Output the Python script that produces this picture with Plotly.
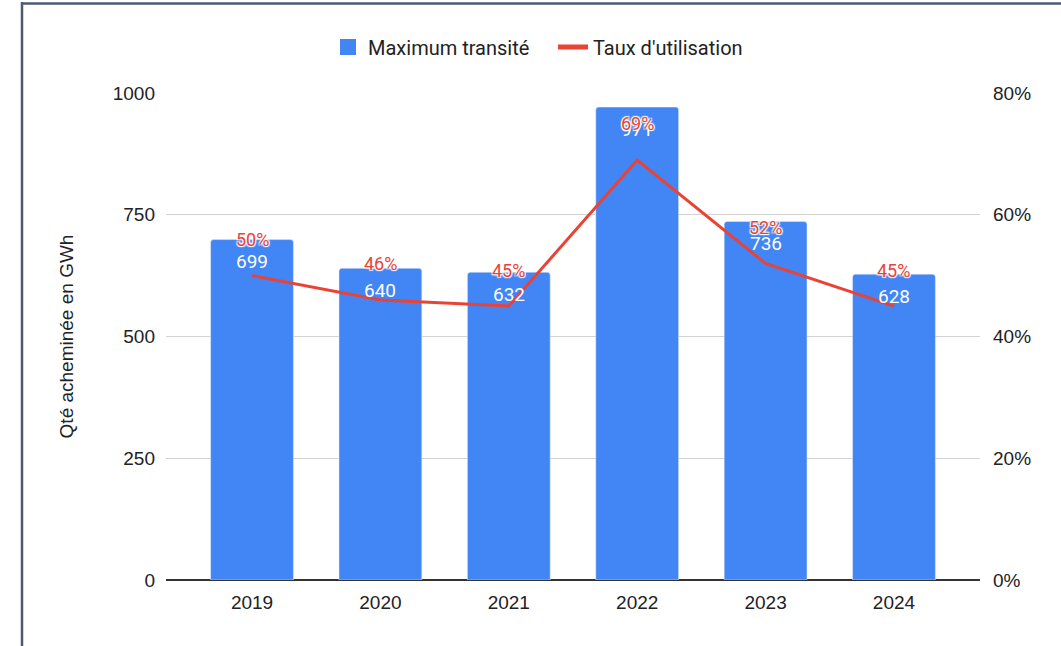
import plotly.graph_objects as go

years = ["2019", "2020", "2021", "2022", "2023", "2024"]
max_transite = [699, 640, 632, 971, 736, 628]
taux = [0.50, 0.46, 0.45, 0.69, 0.52, 0.45]
left_ticks = [0, 250, 500, 750, 1000]
right_ticks = [0, 0.2, 0.4, 0.6, 0.8]

BLUE = "#4285F4"
RED = "#EA4335"
FONT = "Liberation Sans, Arial, sans-serif"
LABEL_FONT = "Roboto, Liberation Sans, sans-serif"

fig = go.Figure()
fig.add_trace(go.Bar(
    x=years, y=max_transite, name="Maximum transité", legendgroup="bar", showlegend=False,
    marker=dict(color=BLUE, cornerradius=3), width=0.645, yaxis="y",
))
fig.add_trace(go.Scatter(
    x=years, y=taux, name="Taux d'utilisation", legendgroup="line", showlegend=False,
    mode="lines", line=dict(color=RED, width=3), yaxis="y2",
))
# legend entries styled like the reference (larger square, thicker line)
fig.add_trace(go.Scatter(
    x=[None], y=[None], name="Maximum transité", legendgroup="bar", mode="markers",
    marker=dict(symbol="square", size=16, color=BLUE), yaxis="y",
))
fig.add_trace(go.Scatter(
    x=[None], y=[None], name="Taux d'utilisation", legendgroup="line", mode="lines",
    line=dict(color=RED, width=5), yaxis="y2",
))

annotations = []
for i, v in enumerate(max_transite):
    annotations.append(dict(
        x=i, y=v, xref="x", yref="y", text=str(v), showarrow=False,
        yshift=-22, font=dict(color="white", size=19, family=LABEL_FONT),
    ))
for i, t in enumerate(taux):
    annotations.append(dict(
        x=i, y=t, xref="x", yref="y2", text=f"{round(t*100)}%", showarrow=False,
        yshift=36, font=dict(color=RED, size=18, family=LABEL_FONT,
                             shadow="1px 1px 1px white, -1px -1px 1px white, 1px -1px 1px white, -1px 1px 1px white"),
    ))

# frame of the screenshot (top and left edges visible)
frame = dict(color="#4b5b70", width=2.5)
shapes = [
    dict(type="line", xref="paper", yref="paper",
         x0=(22-166)/814, x1=(1075-166)/814, y0=(580-3.5)/487, y1=(580-3.5)/487,
         line=frame, layer="above"),
    dict(type="line", xref="paper", yref="paper",
         x0=(22-166)/814, x1=(22-166)/814, y0=(580-2)/487, y1=(580-660)/487,
         line=frame, layer="above"),
]

fig.update_layout(
    width=1061, height=646,
    margin=dict(l=166, r=81, t=93, b=66),
    paper_bgcolor="white", plot_bgcolor="white",
    font=dict(family=FONT, size=18, color="#222222"),
    showlegend=True,
    legend=dict(orientation="h", x=(328-166)/814, xanchor="left", y=1+46/487, yanchor="middle",
                font=dict(size=20, family=LABEL_FONT, color="#222222"), traceorder="normal",
                entrywidth=180, entrywidthmode="pixels"),
    xaxis=dict(type="category", range=[-0.67, 5.67], showgrid=False, showline=False, zeroline=False,
               ticks="", tickfont=dict(size=19), ticklabelstandoff=9),
    yaxis=dict(range=[0, 1000], tickvals=left_ticks, showgrid=True, gridcolor="#d3d3d3", gridwidth=1,
               zeroline=True, zerolinecolor="#333333", zerolinewidth=1.5, showline=False,
               ticks="", tickfont=dict(size=19), ticklabelstandoff=10,
               title=dict(text="Qté acheminée en GWh", font=dict(size=19), standoff=34)),
    yaxis2=dict(range=[0, 0.8], tickvals=right_ticks, tickformat=".0%", overlaying="y", side="right",
                showgrid=False, zeroline=False, showline=False, ticks="", tickfont=dict(size=19),
                ticklabelstandoff=12),
    annotations=annotations,
    shapes=shapes,
)

fig.write_html("out.html", post_script="document.body.style.margin='0';",
               config={"displayModeBar": False})
